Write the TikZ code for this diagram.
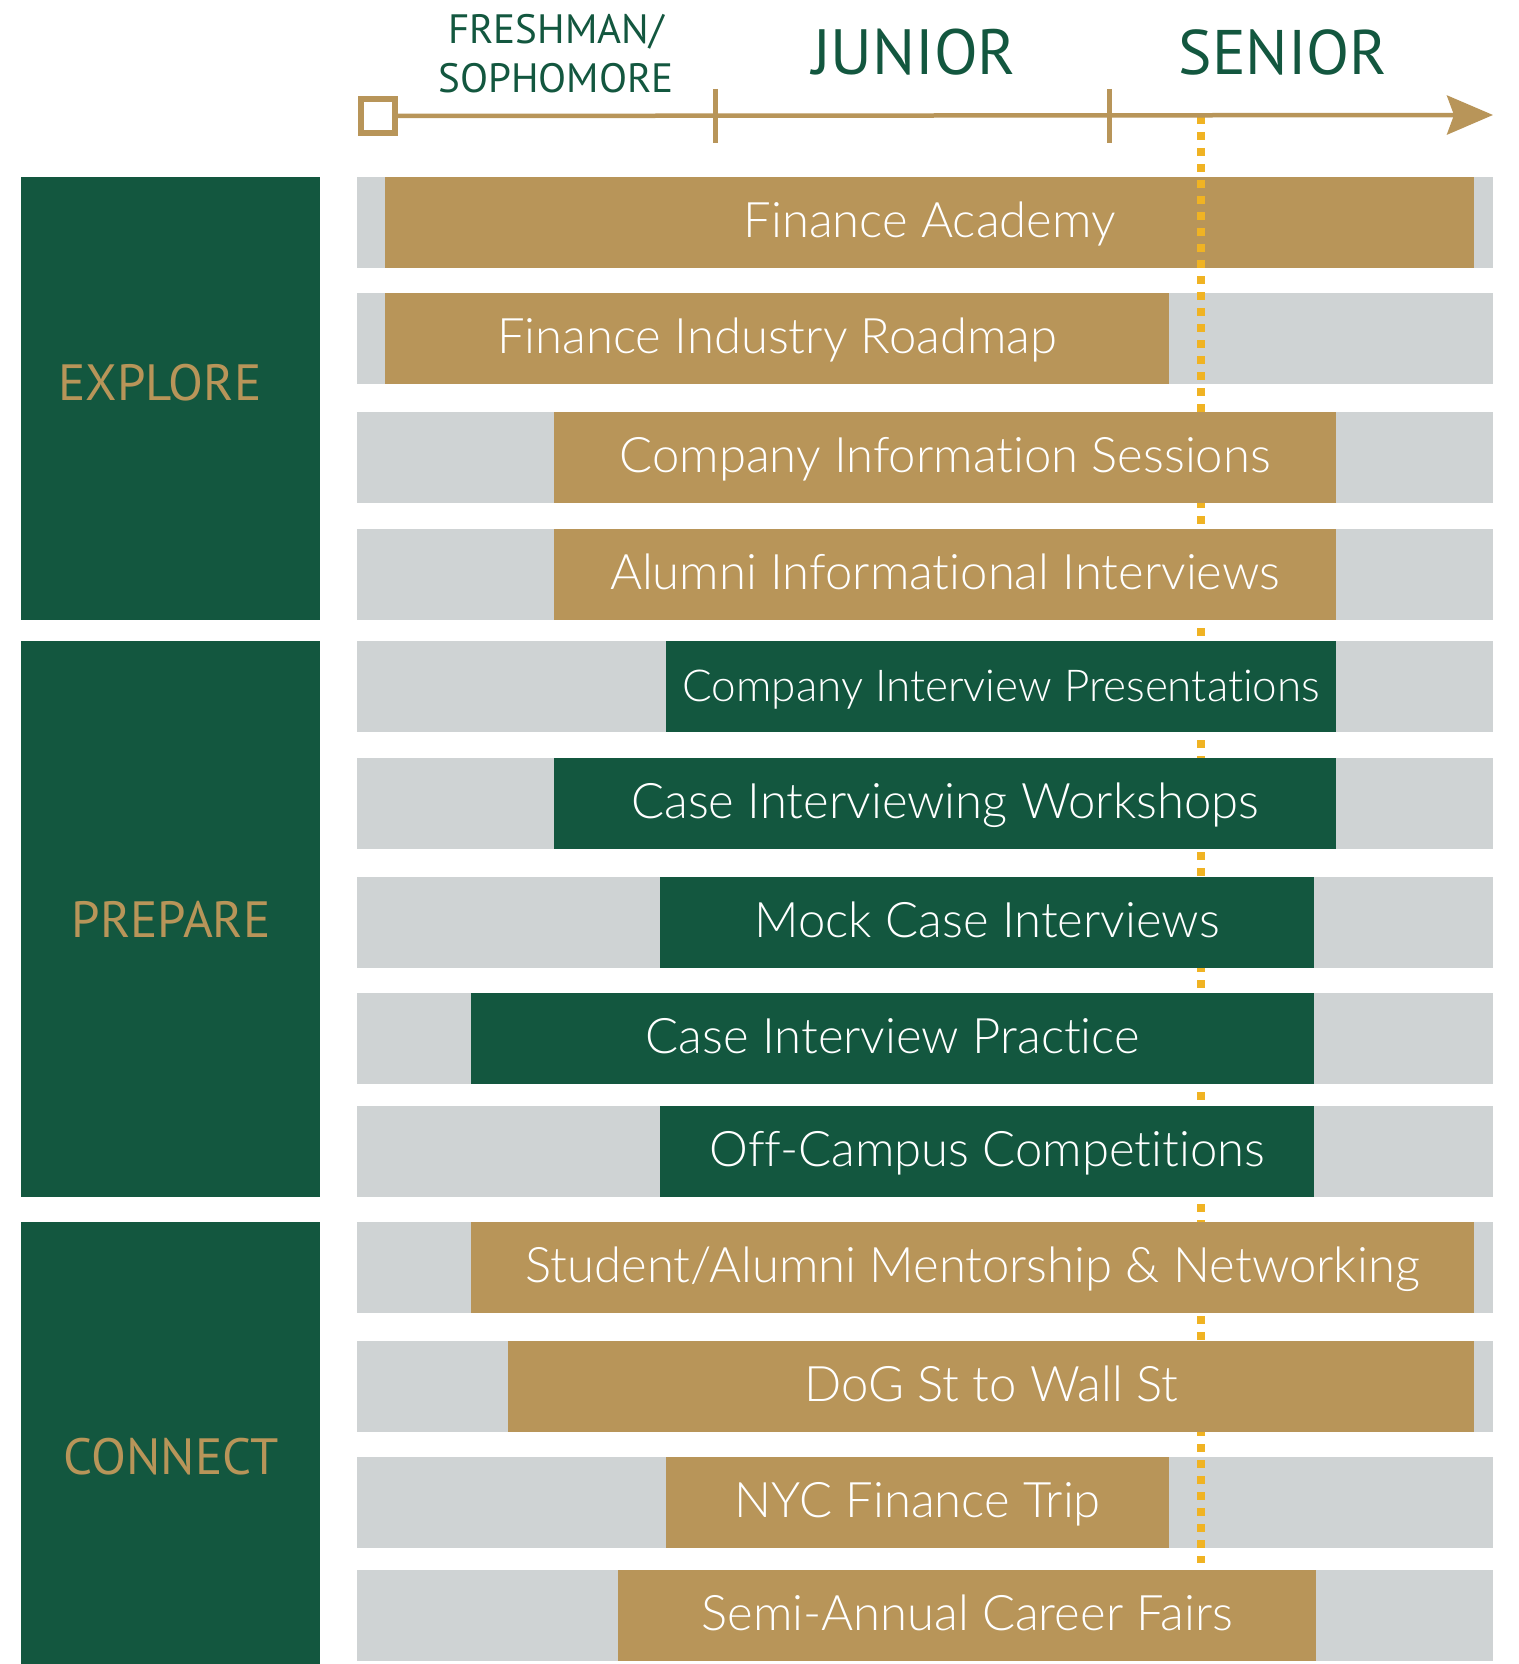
\documentclass[tikz,border=0pt]{standalone}
\usepackage{fontspec}
\setmainfont{PT Sans}
\newfontfamily\barfont{Lato Light}[Ligatures=NoCommon]
\usepackage{tikz}
\usetikzlibrary{arrows.meta,positioning}

\definecolor{wmgreen}{HTML}{13573F}
\definecolor{wmgold}{HTML}{B89559}
\definecolor{trackgray}{HTML}{CFD3D4}
\definecolor{nowyellow}{HTML}{F0B323}

\begin{document}
\begin{tikzpicture}
			[
				x=1pt, y=-1pt,
				track/.style={fill=trackgray, anchor=north west, inner sep=0pt, minimum width=1136pt, minimum height=91pt},
				bar/.style={anchor=north west, inner sep=0pt, minimum height=91pt, text=white, text height=35pt, text depth=6pt},
				phase/.style={fill=wmgreen, anchor=north west, inner sep=0pt, minimum width=299pt},
				phaselabel/.style={text=wmgold, anchor=base, font=\fontsize{51}{52}\selectfont},
				year/.style={text=wmgreen, anchor=base},
				now/.style={nowyellow, line width=8pt, dash pattern=on 8pt off 8pt}
			]

			\useasboundingbox (0,0) rectangle (1518,1664);

			% phases
			\node[phase, minimum height=443pt] (explore) at (21,177) {};
			\node[phase, minimum height=556pt] (prepare) at (21,641) {};
			\node[phase, minimum height=442pt] (connect) at (21,1222) {};
			\node[phaselabel] (exploretxt) at (160,400) {EXPLORE};
			\node[phaselabel] (preparetxt) at (171,937) {PREPARE};
			\node[phaselabel] (connecttxt) at (171,1474) {CONNECT};

			% years
			\node[year, font=\fontsize{41}{42}\selectfont] (fresh) at (556,44) {FRESHMAN/};
			\node[year, font=\fontsize{41}{42}\selectfont] (soph) at (556,93) {SOPHOMORE};
			\node[year, font=\fontsize{64}{66}\selectfont] (junior) at (914,75) {JUNIOR};
			\node[year, font=\fontsize{63}{66}\selectfont] (senior) at (1283,75) {SENIOR};

			% today marker (behind the bars)
			\coordinate (nowtop) at (1201,116);
			\coordinate (nowbot) at (1201,1563);
			\draw[now] (nowtop) -- (nowbot);

			% activity bars
			\foreach \top/\from/\to/\c/\fs/\txt [count=\i] in {
				177/385/1474/wmgold/49/{Finance Academy},
				293/385/1169/wmgold/49/{Finance Industry Roadmap},
				412/554/1336/wmgold/49/{Company Information Sessions},
				529/554/1336/wmgold/49/{Alumni Informational Interviews},
				641/666/1336/wmgreen/44/{Company Interview Presentations},
				758/554/1336/wmgreen/49/{Case Interviewing Workshops},
				877/660/1314/wmgreen/49/{Mock Case Interviews},
				993/471/1314/wmgreen/49/{Case Interview Practice},
				1106/660/1314/wmgreen/49/{Off-Campus Competitions},
				1222/471/1474/wmgold/49/{Student/Alumni Mentorship \& Networking},
				1341/508/1474/wmgold/49/{DoG St to Wall St},
				1457/666/1169/wmgold/49/{NYC Finance Trip},
				1570/618/1316/wmgold/49/{Semi-Annual Career Fairs}}
			{
				\node[track] (track\i) at (357,\top) {};
				\pgfmathsetmacro\len{\to-\from}
				\node[bar, fill=\c, minimum width=\len pt, font=\barfont\fontsize{\fs}{50}\selectfont] (bar\i) at (\from,\top) {\txt};
			}

			% today marker (in front on the first rows and the trip)
			\begin{scope}
				\clip (357,177) rectangle (1493,384) (357,1457) rectangle (1493,1548);
				\draw[now] (nowtop) -- (nowbot);
			\end{scope}

			% time axis
			\node[draw=wmgold, line width=6pt, fill=white, minimum size=34pt, inner sep=0pt] (start) at (378,116) {};
			\coordinate (end) at (1493,115);
			\draw[wmgold, line width=4.5pt, -{Stealth[length=46pt,width=39pt,inset=7pt]}] (start) -- (end);
			\foreach \x in {715,1109}
			\draw[wmgold, line width=5pt] (\x,89) -- (\x,143);

		\end{tikzpicture}
\end{document}
